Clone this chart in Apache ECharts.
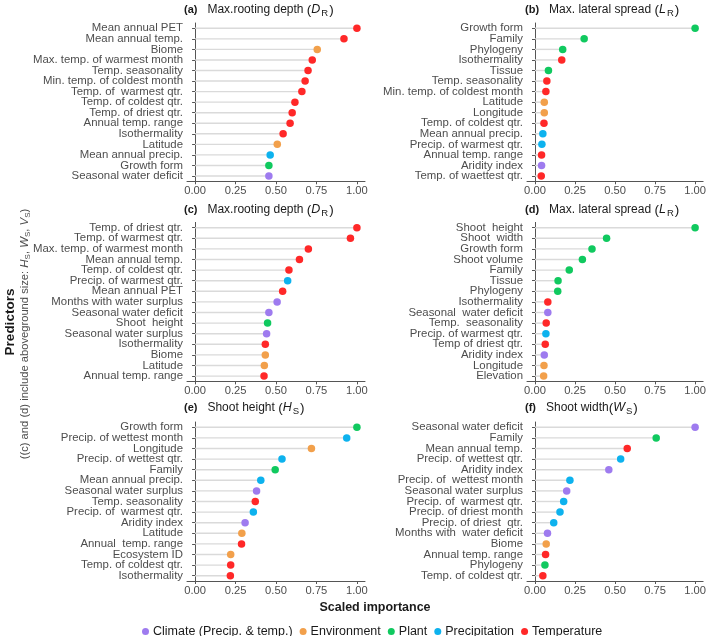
<!DOCTYPE html>
<html><head><meta charset="utf-8">
<script src="https://cdn.jsdelivr.net/npm/echarts@6/dist/echarts.min.js"></script>
<style>html,body{margin:0;padding:0;background:#fff}#c{width:709px;height:636px}</style>
</head><body><div id="c"></div>
<script>
// Groups: C = Climate (Precip. & temp.), E = Environment, P = Plant, R = Precipitation, T = Temperature
const groupCodes = ['C','E','P','R','T'];
const groupNames = ['Climate (Precip. & temp.)','Environment','Plant','Precipitation','Temperature'];
const groupColors = ['#9E7BEF','#F2A04B','#10C95F','#0DB2EE','#FF2828'];

// (a) Max. rooting depth (D_R)
const catsA = ['Mean annual PET','Mean annual temp.','Biome','Max. temp. of warmest month','Temp. seasonality','Min. temp. of coldest month','Temp. of  warmest qtr.','Temp. of coldest qtr.','Temp. of driest qtr.','Annual temp. range','Isothermality','Latitude','Mean annual precip.','Growth form','Seasonal water deficit'];
const valsA = [1.00,0.92,0.755,0.724,0.698,0.68,0.66,0.617,0.60,0.587,0.544,0.508,0.464,0.456,0.456];
const grpA  = ['T','T','E','T','T','T','T','T','T','T','T','E','R','P','C'];

// (b) Max. lateral spread (L_R)
const catsB = ['Growth form','Family','Phylogeny','Isothermality','Tissue','Temp. seasonality','Min. temp. of coldest month','Latitude','Longitude','Temp. of coldest qtr.','Mean annual precip.','Precip. of warmest qtr.','Annual temp. range','Aridity index','Temp. of waettest qtr.'];
const valsB = [1.00,0.307,0.173,0.167,0.084,0.074,0.068,0.058,0.058,0.056,0.049,0.043,0.041,0.041,0.039];
const grpB  = ['P','P','P','T','P','T','T','E','E','T','R','R','T','C','T'];

// (c) Max. rooting depth (D_R), with aboveground size
const catsC = ['Temp. of driest qtr.','Temp. of warmest qtr.','Max. temp. of warmest month','Mean annual temp.','Temp. of coldest qtr.','Precip. of warmest qtr.','Mean annual PET','Months with water surplus','Seasonal water deficit','Shoot  height','Seasonal water surplus','Isothermality','Biome','Latitude','Annual temp. range'];
const valsC = [1.00,0.96,0.70,0.645,0.58,0.572,0.541,0.507,0.456,0.448,0.442,0.434,0.434,0.428,0.426];
const grpC  = ['T','T','T','T','T','R','T','C','C','P','C','T','E','E','T'];

// (d) Max. lateral spread (L_R), with aboveground size
const catsD = ['Shoot  height','Shoot  width','Growth form','Shoot volume','Family','Tissue','Phylogeny','Isothermality','Seasonal  water deficit','Temp.  seasonality','Precip. of warmest qtr.','Temp of driest qtr.','Aridity index','Longitude','Elevation'];
const valsD = [1.00,0.447,0.356,0.296,0.214,0.144,0.142,0.080,0.080,0.070,0.068,0.064,0.058,0.056,0.054];
const grpD  = ['P','P','P','P','P','P','P','T','C','T','R','T','C','E','E'];

// (e) Shoot height (H_S)
const catsE = ['Growth form','Precip. of wettest month','Longitude','Precip. of wettest qtr.','Family','Mean annual precip.','Seasonal water surplus','Temp. seasonality','Precip. of  warmest qtr.','Aridity index','Latitude','Annual  temp. range','Ecosystem ID','Temp. of coldest qtr.','Isothermality'];
const valsE = [1.00,0.937,0.719,0.537,0.495,0.406,0.38,0.372,0.36,0.309,0.289,0.287,0.22,0.22,0.218];
const grpE  = ['P','R','E','R','P','R','C','T','R','C','E','T','E','T','T'];

// (f) Shoot width (W_S)
const catsF = ['Seasonal water deficit','Family','Mean annual temp.','Precip. of wettest qtr.','Aridity index','Precip. of  wettest month','Seasonal water surplus','Precip. of  warmest qtr.','Precip. of driest month','Precip. of driest  qtr.','Months with  water deficit','Biome','Annual temp. range','Phylogeny','Temp. of coldest qtr.'];
const valsF = [1.00,0.757,0.576,0.535,0.461,0.218,0.198,0.179,0.156,0.117,0.078,0.07,0.066,0.062,0.049];
const grpF  = ['C','P','T','R','C','R','C','R','R','R','C','E','T','P','T'];

const xTicks = [0,0.25,0.5,0.75,1];

const panels = [
  {cats:catsA, vals:valsA, grp:grpA, tag:'(a)', name:'Max.rooting depth ', sym:'D', sub:'R'},
  {cats:catsB, vals:valsB, grp:grpB, tag:'(b)', name:'Max. lateral spread ', sym:'L', sub:'R'},
  {cats:catsC, vals:valsC, grp:grpC, tag:'(c)', name:'Max.rooting depth ', sym:'D', sub:'R'},
  {cats:catsD, vals:valsD, grp:grpD, tag:'(d)', name:'Max. lateral spread ', sym:'L', sub:'R'},
  {cats:catsE, vals:valsE, grp:grpE, tag:'(e)', name:'Shoot height ', sym:'H', sub:'S'},
  {cats:catsF, vals:valsF, grp:grpF, tag:'(f)', name:'Shoot width', sym:'W', sub:'S'}
];

const layout = [
  {left:187, top:23,    h:158.3, tx:184, ty:1},
  {left:527, top:23,    h:158.3, tx:525, ty:1},
  {left:187, top:222.4, h:159,   tx:184, ty:201},
  {left:527, top:222.4, h:159,   tx:525, ty:201},
  {left:187, top:422,   h:159,   tx:184, ty:399},
  {left:527, top:422,   h:159,   tx:525, ty:399}
];

const FF = '"Liberation Sans", Arial, sans-serif';
const axisCol = '#555555';
const labCol = '#4d4d4d';
const titleCol = '#1a1a1a';

const grid = [], xAxis = [], yAxis = [], series = [], title = [];
panels.forEach((p, i) => {
  const L = layout[i];
  grid.push({left:L.left, top:L.top, width:178, height:L.h, containLabel:false});
  xAxis.push({
    type:'value', gridIndex:i, min:-0.05, max:1.05,
    axisLine:{show:true, lineStyle:{color:axisCol, width:1}},
    axisTick:{show:true, customValues:xTicks, length:3, lineStyle:{color:axisCol}},
    axisLabel:{customValues:xTicks, formatter:v=>v.toFixed(2), color:labCol, fontSize:11.2, margin:4, fontFamily:FF},
    splitLine:{show:false}
  });
  yAxis.push({
    type:'category', gridIndex:i, data:p.cats, inverse:true,
    axisLine:{show:true, lineStyle:{color:axisCol, width:1}},
    axisTick:{show:true, alignWithLabel:true, length:3, lineStyle:{color:axisCol}},
    axisLabel:{color:labCol, fontSize:11.4, margin:4, interval:0, fontFamily:FF},
    splitLine:{show:false}
  });
  series.push({
    type:'bar', xAxisIndex:i, yAxisIndex:i, data:p.vals, barWidth:1.4,
    itemStyle:{color:'#DADADA'}, silent:true, z:1, legendHoverLink:false
  });
  groupCodes.forEach((g, gi) => {
    const d = [];
    p.vals.forEach((v, k) => { if (p.grp[k] === g) d.push([v, k]); });
    series.push({
      type:'scatter', name:groupNames[gi], xAxisIndex:i, yAxisIndex:i, data:d,
      symbol:'circle', symbolSize:7.5, itemStyle:{color:groupColors[gi], opacity:1}, z:3
    });
  });
  title.push({
    left:L.tx, top:L.ty, padding:0,
    text:'{b|' + p.tag + '}  {t|' + p.name + '}{p|(}{i|' + p.sym + '}{s|' + p.sub + '}{p|)}',
    textStyle:{
      fontFamily:FF, color:titleCol, fontWeight:'normal',
      rich:{
        b:{fontWeight:'bold', fontSize:11, fontFamily:FF, color:titleCol},
        t:{fontWeight:'normal', fontSize:12, fontFamily:FF, color:titleCol},
        p:{fontWeight:'normal', fontSize:13.5, fontFamily:FF, color:titleCol},
        i:{fontWeight:'normal', fontSize:12.5, fontStyle:'italic', fontFamily:FF, color:titleCol},
        s:{fontWeight:'normal', fontSize:9.5, fontFamily:FF, color:titleCol, padding:[7,1,0,1]}
      }
    }
  });
});

const chart = echarts.init(document.getElementById('c'), null, {renderer:'canvas'});
chart.setOption({
  animation:false,
  backgroundColor:'#ffffff',
  title:title,
  grid:grid, xAxis:xAxis, yAxis:yAxis, series:series,
  legend:{
    data:groupNames, left:137, top:620, icon:'circle', itemWidth:7, itemHeight:7, itemGap:7,
    textStyle:{fontSize:12.5, color:'#1a1a1a', fontFamily:FF, padding:[0,0,0,-1]},
    selectedMode:false
  },
  graphic:[
    {type:'text', x:10, y:322, rotation:Math.PI/2,
     style:{text:'Predictors', font:'bold 13.5px ' + FF, fill:'#1a1a1a', textAlign:'center', textVerticalAlign:'middle'}},
    {type:'text', x:25, y:334, rotation:Math.PI/2,
     style:{text:'((c) and (d) include aboveground size: {i|H}{s|S}, {i|W}{s|S}, {i|V}{s|S})',
       fill:'#4d4d4d', fontSize:11.2, fontFamily:FF, textAlign:'center', textVerticalAlign:'middle',
       rich:{i:{fontStyle:'italic', fontSize:11.5, fontFamily:FF, fill:'#4d4d4d'}, s:{fontSize:8, fontFamily:FF, fill:'#4d4d4d', padding:[5,0,0,0]}}}},
    {type:'text', x:375, y:608,
     style:{text:'Scaled importance', font:'bold 12.5px ' + FF, fill:'#1a1a1a', textAlign:'center', textVerticalAlign:'middle'}}
  ]
});
</script>
</body></html>
